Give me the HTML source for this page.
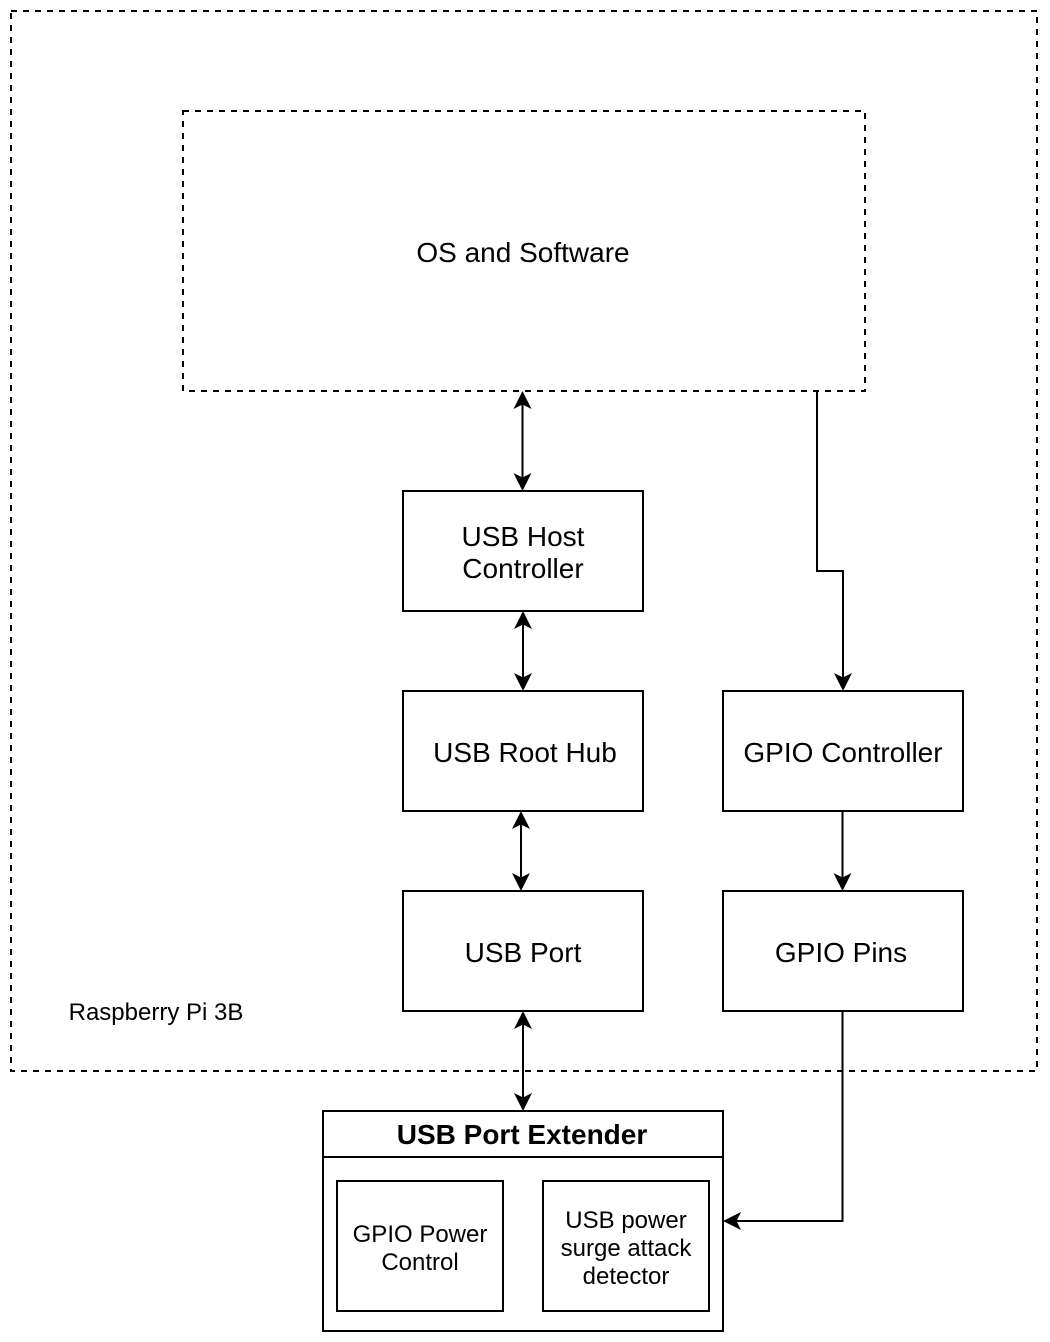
<!DOCTYPE html>
<html>
<head>
<meta charset="utf-8">
<style>
html,body{margin:0;padding:0;background:#fff;width:1050px;height:1342px;overflow:hidden}
svg{display:block}
text{font-family:"Liberation Sans",Arial,sans-serif;fill:#000;text-anchor:middle}
</style>
</head>
<body>
<svg width="1050" height="1342" viewBox="0 0 1050 1342" xmlns="http://www.w3.org/2000/svg">
<defs>
<path id="up" d="M0 0 L9 18 L0 13.500 L-9 18 Z" fill="#000"/>
</defs>
<g fill="#fff" stroke="#000" stroke-width="2" shape-rendering="crispEdges">
<rect x="11" y="11" width="1026" height="1060" stroke-dasharray="6 6"/>
<rect x="183" y="111" width="682" height="280" stroke-dasharray="6 6"/>
<rect x="403" y="491" width="240" height="120"/>
<rect x="403" y="691" width="240" height="120"/>
<rect x="403" y="891" width="240" height="120"/>
<rect x="723" y="691" width="240" height="120"/>
<rect x="723" y="891" width="240" height="120"/>
<rect x="323" y="1111" width="400" height="220"/>
<line x1="323" y1="1157" x2="723" y2="1157"/>
<rect x="337" y="1181" width="166" height="130"/>
<rect x="543" y="1181" width="166" height="130"/>
</g>
<g fill="none" stroke="#000" stroke-width="2">
<line x1="522.500" y1="404" x2="522.500" y2="478"/>
<line x1="523" y1="624" x2="523" y2="678"/>
<line x1="521" y1="824" x2="521" y2="878"/>
<line x1="523" y1="1024" x2="523" y2="1098"/>
<path d="M817 391 V571 H843 V678"/>
<line x1="842.500" y1="811" x2="842.500" y2="878"/>
<path d="M842.500 1011 V1221 H736"/>
</g>
<g>
<use href="#up" transform="translate(522.500,391)"/>
<use href="#up" transform="translate(522.500,491) rotate(180)"/>
<use href="#up" transform="translate(523,611)"/>
<use href="#up" transform="translate(523,691) rotate(180)"/>
<use href="#up" transform="translate(521,811)"/>
<use href="#up" transform="translate(521,891) rotate(180)"/>
<use href="#up" transform="translate(523,1011)"/>
<use href="#up" transform="translate(523,1111) rotate(180)"/>
<use href="#up" transform="translate(843,691) rotate(180)"/>
<use href="#up" transform="translate(842.500,891) rotate(180)"/>
<use href="#up" transform="translate(723,1221) rotate(-90)"/>
</g>
<g font-size="28">
<text x="523" y="262">OS and Software</text>
<text x="523" y="546">USB Host</text>
<text x="523" y="578">Controller</text>
<text x="525" y="762">USB Root Hub</text>
<text x="523" y="962">USB Port</text>
<text x="843" y="762">GPIO Controller</text>
<text x="841" y="962">GPIO Pins</text>
<text x="522" y="1144" font-weight="bold">USB Port Extender</text>
</g>
<g font-size="24">
<text x="156" y="1020">Raspberry Pi 3B</text>
<text x="420" y="1242">GPIO Power</text>
<text x="420" y="1270">Control</text>
<text x="626" y="1228">USB power</text>
<text x="626" y="1256">surge attack</text>
<text x="626" y="1284">detector</text>
</g>
</svg>
</body>
</html>
